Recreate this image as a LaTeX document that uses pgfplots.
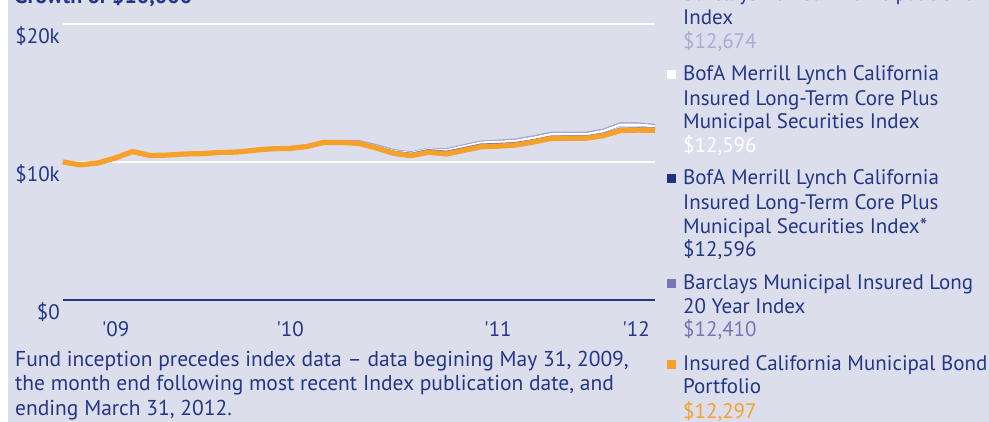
\documentclass[border=0pt]{standalone}
\usepackage{pgfplots}
\usepackage{pgfplotstable}
\pgfplotsset{compat=1.18}
\usepackage{fontspec}
\setmainfont{PT Sans}
\definecolor{bg}{RGB}{220,222,236}
\definecolor{navy}{RGB}{35,55,135}
\definecolor{orng}{RGB}{247,160,42}
\definecolor{lav}{RGB}{172,172,210}
\definecolor{purp}{RGB}{118,118,178}
\definecolor{sqnavy}{RGB}{30,50,130}
\pgfplotstableread{
m  b20    bofa   bins   fund
0  10000  10000  10000  10000
1  9820   9790   9760   9790
2  9970   9930   9860   9930
3  10350  10290  10220  10290
4  10800  10760  10690  10760
5  10530  10470  10430  10470
6  10560  10500  10470  10500
7  10640  10580  10560  10580
8  10680  10610  10590  10610
9  10760  10690  10670  10690
10 10790  10720  10710  10720
11 10930  10850  10840  10850
12 11040  10960  10940  10960
13 11060  10980  10960  10980
14 11200  11120  11100  11120
15 11510  11440  11390  11420
16 11510  11450  11380  11410
17 11500  11430  11370  11350
18 11210  11130  11090  11010
19 10850  10780  10730  10630
20 10680  10640  10580  10460
21 10950  10920  10850  10700
22 10910  10840  10730  10580
23 11190  11120  10980  10830
24 11470  11400  11250  11100
25 11530  11450  11290  11150
26 11620  11530  11360  11230
27 11840  11740  11560  11440
28 12100  12000  11820  11700
29 12110  12010  11830  11710
30 12110  12010  11830  11710
31 12320  12230  12020  11900
32 12790  12700  12390  12270
33 12790  12710  12425  12310
34 12674  12596  12410  12297
}\datatable
\begin{document}
\begin{tikzpicture}[x=1pt,y=1pt]
\useasboundingbox (0,0) rectangle (989,422);
\clip (0,0) rectangle (989,422);
\fill[white] (0,0) rectangle (989,422);
\fill[bg] (8,0) rectangle (989,422);
% title (cut at top)
\node[anchor=base west, inner sep=0pt, text=navy, font=\fontsize{22}{26}\selectfont\bfseries] at (14,418) {Growth of \$10,000};
\begin{axis}[
  at={(63pt,122pt)}, anchor=south west,
  scale only axis, width=592pt, height=276pt,
  xmin=0, xmax=34, ymin=0, ymax=20000,
  axis x line*=bottom, axis y line*=left,
  separate axis lines,
  x axis line style={draw=navy, line width=1.5pt},
  y axis line style={draw=none},
  major tick length=0pt,
  ytick={10000,20000},
  yticklabels={\$10k,\$20k},
  extra y ticks={0},
  extra y tick labels={\$0},
  extra y tick style={grid=none},
  ymajorgrids,
  grid style={white, line width=1.6pt},
  yticklabel style={anchor=base east, inner sep=0pt, xshift=-3pt, yshift=-20pt, text=navy, font=\fontsize{21}{25}\selectfont},
  xtick={3.02,13.04,24.98,32.91},
  xticklabels={\textquotesingle09,\textquotesingle10,\textquotesingle11,\textquotesingle12},
  xticklabel style={anchor=base, inner sep=0pt, yshift=-37pt, text=navy, font=\fontsize{21}{25}\selectfont},
  clip=false,
  scaled y ticks=false,
]
\addplot[lav, line width=2.6pt, line join=round] table[x=m,y=b20] {\datatable};
\addplot[sqnavy, line width=2.6pt, line join=round] table[x=m,y=bofa] {\datatable};
\addplot[white, line width=2.6pt, line join=round] table[x=m,y=bofa] {\datatable};
\addplot[purp, line width=2.6pt, line join=round] table[x=m,y=bins] {\datatable};
\addplot[orng, line width=5.2pt, line join=round] table[x=m,y=fund] {\datatable};
\end{axis}
% legend
\tikzset{lg/.style={anchor=base west, inner sep=0pt, text=navy, font=\fontsize{21}{25}\selectfont}}
\tikzset{fn/.style={anchor=base west, inner sep=0pt, text=navy, font=\fontsize{21.5}{25}\selectfont}}
\node[lg] at (683,421) {Barclays 20 Year Municipal Bond};
\node[lg] at (683,397) {Index};
\node[lg, text=lav] at (683,373.7) {\$12,674};
\fill[white] (667,343) rectangle (676,352);
\node[lg] at (683,341) {BofA Merrill Lynch California};
\node[lg] at (683,316.3) {Insured Long-Term Core Plus};
\node[lg] at (683,293) {Municipal Securities Index};
\node[lg, text=white] at (683,269.7) {\$12,596};
\fill[sqnavy] (667,239) rectangle (676,248);
\node[lg] at (683,237) {BofA Merrill Lynch California};
\node[lg] at (683,212.7) {Insured Long-Term Core Plus};
\node[lg] at (683,188.7) {Municipal Securities Index*};
\node[lg] at (683,165.3) {\$12,596};
\fill[purp] (667,134) rectangle (676,143);
\node[lg] at (683,132) {Barclays Municipal Insured Long};
\node[lg] at (683,108.7) {20 Year Index};
\node[lg, text=purp] at (683,85.3) {\$12,410};
\fill[orng] (667,53.3) rectangle (676,62.3);
\node[lg] at (683,51.3) {Insured California Municipal Bond};
\node[lg] at (683,28) {Portfolio};
\node[lg, text=orng] at (683,3.7) {\$12,297};
% footnote
\node[fn] at (15,55) {Fund inception precedes index data – data begining May 31, 2009,};
\node[fn] at (15,31) {the month end following most recent Index publication date, and};
\node[fn] at (15,6) {ending March 31, 2012.};
\end{tikzpicture}
\end{document}
